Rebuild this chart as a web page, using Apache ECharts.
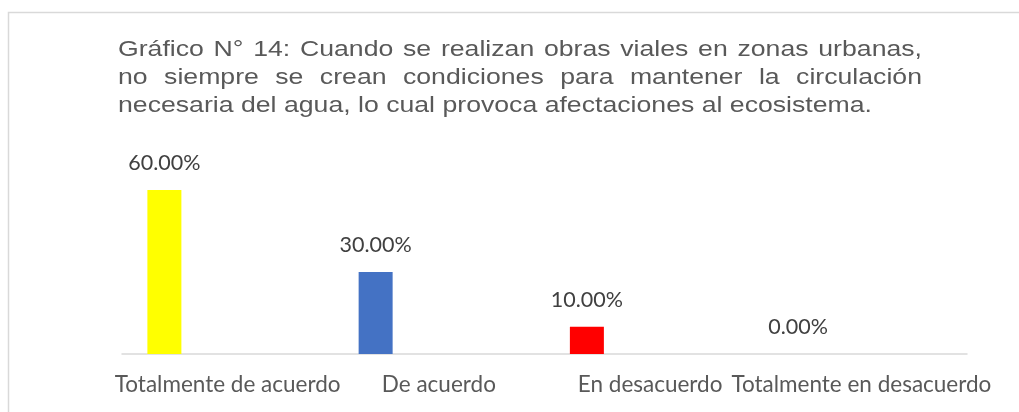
<!DOCTYPE html>
<html>
<head>
<meta charset="utf-8">
<script src="https://cdn.jsdelivr.net/npm/echarts@6/dist/echarts.min.js"></script>
<style>
  html, body { margin: 0; padding: 0; background: #fff; }
  #main { width: 1019px; height: 412px; }
</style>
</head>
<body>
<div id="main"></div>
<script>
var categories = ['Totalmente de acuerdo', 'De acuerdo', 'En desacuerdo', 'Totalmente en desacuerdo'];
var values = [60, 30, 10, 0];
var barColors = ['#ffff00', '#4472c4', '#ff0000', '#a5a5a5'];
var titleLines = [
    'Gráfico N° 14: Cuando se realizan obras viales en zonas urbanas,',
    'no siempre se crean condiciones para mantener la circulación',
    'necesaria del agua, lo cual provoca afectaciones al ecosistema.'
];

var titleFont = '22px "Liberation Sans", Arial, sans-serif';
var titleLeft = 118, titleRight = 922, lastLineRight = 872, titleTop = 39, titleStep = 28;

// justified title, drawn a bit wide like the original picture
function titleGraphics() {
    var ctx = document.createElement('canvas').getContext('2d');
    ctx.font = titleFont;
    var last = titleLines[titleLines.length - 1];
    var sx = (lastLineRight - titleLeft) / ctx.measureText(last).width;
    var avail = (titleRight - titleLeft) / sx;
    var children = [];
    titleLines.forEach(function (line, i) {
        var y = i * titleStep;
        if (i === titleLines.length - 1) {
            children.push({ type: 'text', x: 0, y: y,
                style: { text: line, font: titleFont, fill: '#595959' } });
            return;
        }
        var words = line.split(' ');
        var total = 0;
        words.forEach(function (w) { total += ctx.measureText(w).width; });
        var gap = (avail - total) / (words.length - 1);
        var x = 0;
        words.forEach(function (w) {
            children.push({ type: 'text', x: x, y: y,
                style: { text: w, font: titleFont, fill: '#595959' } });
            x += ctx.measureText(w).width + gap;
        });
    });
    return { type: 'group', x: titleLeft, y: titleTop, scaleX: sx, children: children };
}

var chart = echarts.init(document.getElementById('main'));

chart.setOption({
    animation: false,
    graphic: [{
        type: 'rect', shape: { x: 8.5, y: 12.5, width: 1030, height: 420 },
        style: { fill: 'none', stroke: '#d9d9d9', lineWidth: 1.5 }, z: -1
    }, titleGraphics()],
    grid: { left: 122, right: 52, top: 190, bottom: 58 },
    xAxis: {
        type: 'category',
        data: categories,
        axisLine: { lineStyle: { color: '#d9d9d9', width: 1.5 } },
        axisTick: { show: false },
        axisLabel: { color: '#595959', fontFamily: 'Lato', fontSize: 22.5, margin: 19, interval: 0 }
    },
    yAxis: {
        type: 'value', min: 0, max: 60,
        show: false,
        splitLine: { show: false }
    },
    series: [{
        type: 'bar',
        barWidth: 34,
        barGap: '272%',
        data: values.map(function (v, i) {
            return { value: v, itemStyle: { color: barColors[i] } };
        }),
        label: {
            show: true, position: 'top', distance: 16,
            color: '#404040', fontFamily: 'Lato', fontSize: 21.5,
            formatter: function (p) { return p.value.toFixed(2) + '%'; }
        }
    }, {
        type: 'bar',
        barWidth: 34,
        data: []
    }]
});
</script>
</body>
</html>
